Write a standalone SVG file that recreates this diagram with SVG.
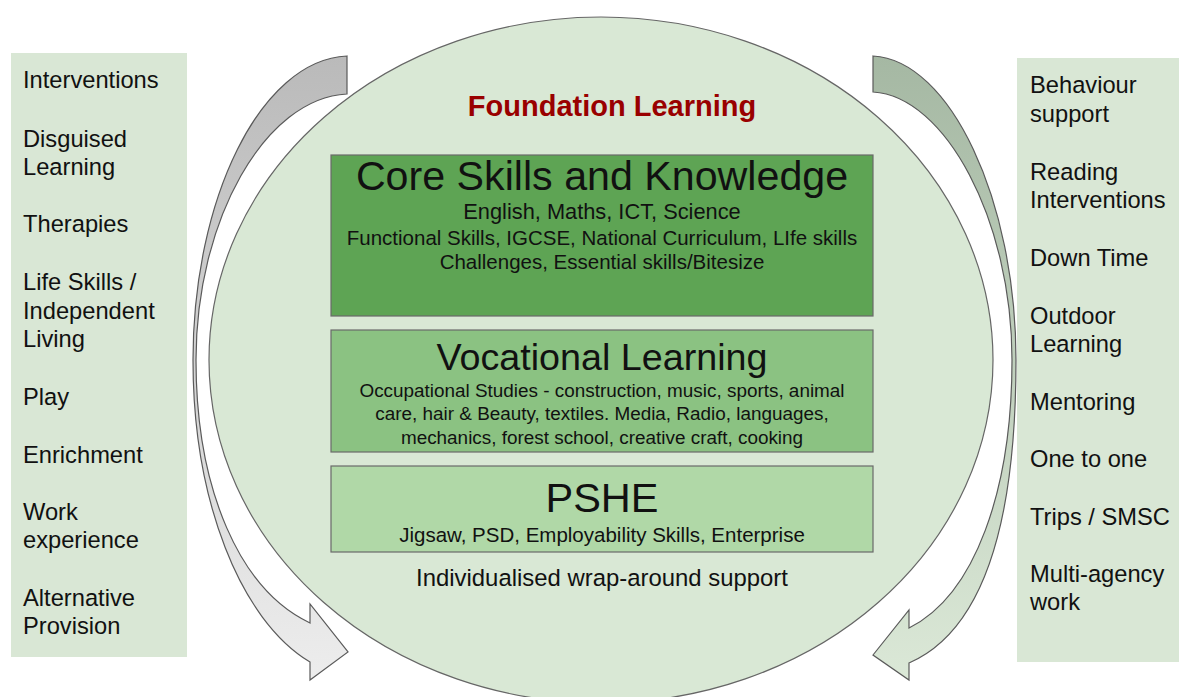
<svg xmlns="http://www.w3.org/2000/svg" width="1179" height="697" viewBox="0 0 1179 697">
<style>
text{font-family:"Liberation Sans",Arial,sans-serif;fill:#111}
.side{font-size:23.7px}
.mid{text-anchor:middle}
.box{stroke:#6a6a6a;stroke-width:1.2}
.arrow{stroke:#5a5a5a;stroke-width:1.2}
</style>
<defs>
<linearGradient id="gL" x1="0" y1="0" x2="0" y2="1">
<stop offset="0" stop-color="#bababa"/>
<stop offset="1" stop-color="#ededed"/>
</linearGradient>
<linearGradient id="gR" x1="0" y1="0" x2="0" y2="1">
<stop offset="0" stop-color="#a5b8a3"/>
<stop offset="1" stop-color="#dbe8d7"/>
</linearGradient>
</defs>
<rect width="1179" height="697" fill="#ffffff"/>

<g id="left-panel">
<rect x="11" y="53" width="176" height="604" fill="#d9e7d5"/>
<text class="side" x="23" y="88">Interventions</text>
<text class="side" x="23" y="147">Disguised</text>
<text class="side" x="23" y="175">Learning</text>
<text class="side" x="23" y="232">Therapies</text>
<text class="side" x="23" y="290">Life Skills /</text>
<text class="side" x="23" y="319">Independent</text>
<text class="side" x="23" y="347">Living</text>
<text class="side" x="23" y="405">Play</text>
<text class="side" x="23" y="463">Enrichment</text>
<text class="side" x="23" y="520">Work</text>
<text class="side" x="23" y="548">experience</text>
<text class="side" x="23" y="606">Alternative</text>
<text class="side" x="23" y="634">Provision</text>
</g>

<g id="right-panel">
<rect x="1017" y="58" width="162" height="604" fill="#d9e7d5"/>
<text class="side" x="1030" y="93">Behaviour</text>
<text class="side" x="1030" y="122">support</text>
<text class="side" x="1030" y="180">Reading</text>
<text class="side" x="1030" y="208">Interventions</text>
<text class="side" x="1030" y="266">Down Time</text>
<text class="side" x="1030" y="324">Outdoor</text>
<text class="side" x="1030" y="352">Learning</text>
<text class="side" x="1030" y="410">Mentoring</text>
<text class="side" x="1030" y="467">One to one</text>
<text class="side" x="1030" y="525">Trips / SMSC</text>
<text class="side" x="1030" y="582">Multi-agency</text>
<text class="side" x="1030" y="610">work</text>
</g>

<g id="connectors">
<path class="arrow" fill="url(#gL)" d="M347,56 L347,94 C265,98 196,220 196,360 C196,490 240,590 310,623 L310,604 L348,652 L310,680 L310,662 C240,620 193,500 193,360 C193,200 260,60 347,56 Z"/>
<path class="arrow" fill="url(#gR)" d="M873,56 L873,92 C945,96 1012,220 1012,360 C1012,490 975,595 909,628 L909,610 L873,655 L909,680 L909,663 C985,630 1016,520 1016,360 C1016,200 950,60 873,56 Z"/>
</g>

<g id="foundation">
<ellipse cx="601" cy="360" rx="392" ry="343" fill="#d9e8d5" stroke="#666" stroke-width="1.2"/>
<text class="mid" x="612" y="116" style="font-size:29px;font-weight:bold;fill:#990000">Foundation Learning</text>
<text class="mid" x="602" y="586" style="font-size:23.9px">Individualised wrap-around support</text>
</g>

<g id="core">
<rect class="box" x="331" y="155" width="542" height="161" fill="#5ea454"/>
<text class="mid" x="602" y="190" style="font-size:41.2px">Core Skills and Knowledge</text>
<text class="mid" x="602" y="219" style="font-size:21.8px">English, Maths, ICT, Science</text>
<text class="mid" x="602" y="245" style="font-size:20.5px">Functional Skills, IGCSE, National Curriculum, LIfe skills</text>
<text class="mid" x="602" y="269" style="font-size:20.5px">Challenges, Essential skills/Bitesize</text>
</g>

<g id="vocational">
<rect class="box" x="331" y="330" width="542" height="122" fill="#8bc282"/>
<text class="mid" x="602" y="370" style="font-size:37.7px">Vocational Learning</text>
<text class="mid" x="602" y="397" style="font-size:18.9px">Occupational Studies - construction, music, sports, animal</text>
<text class="mid" x="602" y="420" style="font-size:18.9px">care, hair &amp; Beauty, textiles. Media, Radio, languages,</text>
<text class="mid" x="602" y="444" style="font-size:18.9px">mechanics, forest school, creative craft, cooking</text>
</g>

<g id="pshe">
<rect class="box" x="331" y="466" width="542" height="86" fill="#b0d8a7"/>
<text class="mid" x="602" y="512" style="font-size:41.5px">PSHE</text>
<text class="mid" x="602" y="542" style="font-size:20.5px">Jigsaw, PSD, Employability Skills, Enterprise</text>
</g>
</svg>
